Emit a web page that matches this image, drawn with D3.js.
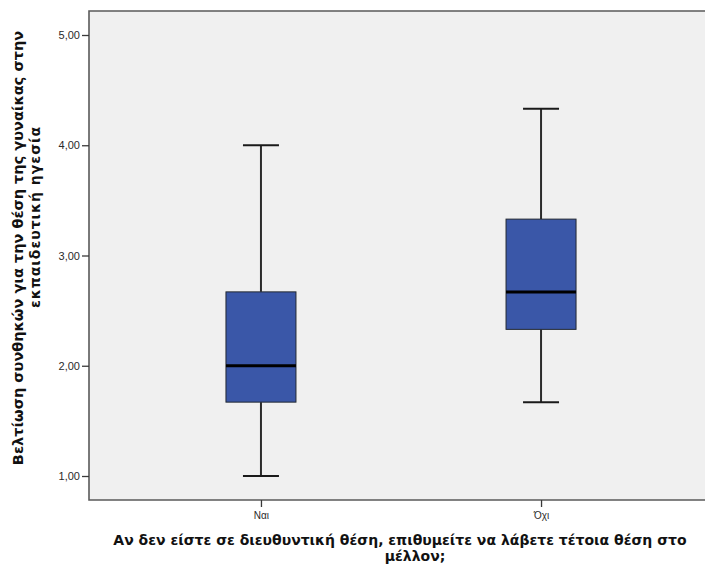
<!DOCTYPE html>
<html>
<head>
<meta charset="utf-8">
<script src="https://cdn.jsdelivr.net/npm/d3@7/dist/d3.min.js"></script>
<style>
  html, body { margin: 0; padding: 0; background: #ffffff; }
  svg { display: block; }
</style>
</head>
<body>
<svg id="chart" width="705" height="570"></svg>
<script>
// Box plot summary per group
const categories = ["Ναι", "Όχι"];
const lowWhisker = [1.00, 1.67];
const q1Values   = [1.67, 2.33];
const medians    = [2.00, 2.67];
const q3Values   = [2.67, 3.33];
const highWhisker = [4.00, 4.33];
const yTicks = [1, 2, 3, 4, 5];

const yTitleLines = ["Βελτίωση συνθηκών για την θέση της γυναίκας στην", "εκπαιδευτική ηγεσία"];
const xTitleLines = ["Αν δεν είστε σε διευθυντική θέση, επιθυμείτε να λάβετε τέτοια θέση στο", "μέλλον;"];

const svg = d3.select("#chart");

const frame = { left: 89, top: 11, right: 713, bottom: 500 };

const x = d3.scalePoint()
  .domain(categories)
  .range([frame.left, frame.right])
  .padding(0.614);

const y = d3.scaleLinear()
  .domain([1, 5])
  .range([476, 35]);

const fmt = d3.formatLocale({ decimal: ",", thousands: "." }).format(".2f");

// Plot background
svg.append("rect")
  .attr("x", frame.left)
  .attr("y", frame.top)
  .attr("width", frame.right - frame.left)
  .attr("height", frame.bottom - frame.top)
  .attr("fill", "#f0f0f0");

// Box elements
const data = categories.map((c, i) => ({
  cat: c, lo: lowWhisker[i], q1: q1Values[i], med: medians[i], q3: q3Values[i], hi: highWhisker[i]
}));

const boxW = 70, capW = 36;
const g = svg.append("g");
const box = g.selectAll("g.box").data(data).enter().append("g").attr("class", "box");

// whisker stems
box.append("line")
  .attr("x1", d => x(d.cat)).attr("x2", d => x(d.cat))
  .attr("y1", d => y(d.hi)).attr("y2", d => y(d.q3))
  .attr("stroke", "#2b2b2b").attr("stroke-width", 2);
box.append("line")
  .attr("x1", d => x(d.cat)).attr("x2", d => x(d.cat))
  .attr("y1", d => y(d.q1)).attr("y2", d => y(d.lo))
  .attr("stroke", "#2b2b2b").attr("stroke-width", 2);
// caps
box.append("line")
  .attr("x1", d => x(d.cat) - capW / 2).attr("x2", d => x(d.cat) + capW / 2)
  .attr("y1", d => y(d.hi)).attr("y2", d => y(d.hi))
  .attr("stroke", "#1a1a1a").attr("stroke-width", 2);
box.append("line")
  .attr("x1", d => x(d.cat) - capW / 2).attr("x2", d => x(d.cat) + capW / 2)
  .attr("y1", d => y(d.lo)).attr("y2", d => y(d.lo))
  .attr("stroke", "#1a1a1a").attr("stroke-width", 2);
// boxes
box.append("rect")
  .attr("x", d => x(d.cat) - boxW / 2)
  .attr("y", d => y(d.q3))
  .attr("width", boxW)
  .attr("height", d => y(d.q1) - y(d.q3))
  .attr("fill", "#3a57a8")
  .attr("stroke", "#222831")
  .attr("stroke-width", 1);
// medians
box.append("line")
  .attr("x1", d => x(d.cat) - boxW / 2).attr("x2", d => x(d.cat) + boxW / 2)
  .attr("y1", d => y(d.med)).attr("y2", d => y(d.med))
  .attr("stroke", "#000000").attr("stroke-width", 3);

// Frame: left, top and bottom edges
svg.append("path")
  .attr("d", `M${frame.right},${frame.top}H${frame.left}V${frame.bottom}H${frame.right}`)
  .attr("fill", "none")
  .attr("stroke", "#5a5a5a")
  .attr("stroke-width", 1.6);

// Y axis
const yAxis = svg.append("g")
  .attr("transform", `translate(${frame.left},0)`)
  .call(d3.axisLeft(y).tickValues(yTicks).tickFormat(fmt).tickSize(7).tickPadding(2));
yAxis.select(".domain").remove();
yAxis.selectAll(".tick line").attr("stroke", "#3a3a3a").attr("stroke-width", 1.3);
yAxis.selectAll(".tick text")
  .attr("fill", "#2a2a2a")
  .style("font-family", "'Liberation Sans', Arial, sans-serif")
  .style("font-size", "11px");

// X axis
const xAxis = svg.append("g")
  .attr("transform", `translate(0,${frame.bottom})`)
  .call(d3.axisBottom(x).tickSize(7).tickPadding(5));
xAxis.select(".domain").remove();
xAxis.selectAll(".tick line").attr("stroke", "#3a3a3a").attr("stroke-width", 1.3);
xAxis.selectAll(".tick text")
  .attr("fill", "#2a2a2a")
  .style("font-family", "'Liberation Sans Narrow', 'Liberation Sans', Arial, sans-serif")
  .style("font-size", "10px");

// Y title (two lines)
svg.append("text")
  .attr("transform", "translate(23,248) rotate(-90)")
  .attr("text-anchor", "middle")
  .style("font-family", "'DejaVu Sans', Verdana, sans-serif")
  .style("font-weight", "bold")
  .style("font-size", "14.5px")
  .attr("fill", "#111")
  .text(yTitleLines[0]);
svg.append("text")
  .attr("transform", "translate(40,217) rotate(-90)")
  .attr("text-anchor", "middle")
  .style("font-family", "'DejaVu Sans', Verdana, sans-serif")
  .style("font-weight", "bold")
  .style("font-size", "14px")
  .style("letter-spacing", "1px")
  .attr("fill", "#111")
  .text(yTitleLines[1]);

// X title (two lines)
svg.append("text")
  .attr("x", 400).attr("y", 545)
  .attr("text-anchor", "middle")
  .style("font-family", "'DejaVu Sans', Verdana, sans-serif")
  .style("font-weight", "bold")
  .style("font-size", "14px")
  .attr("fill", "#111")
  .text(xTitleLines[0]);
svg.append("text")
  .attr("x", 415).attr("y", 561)
  .attr("text-anchor", "middle")
  .style("font-family", "'DejaVu Sans', Verdana, sans-serif")
  .style("font-weight", "bold")
  .style("font-size", "14px")
  .attr("fill", "#111")
  .text(xTitleLines[1]);
</script>
</body>
</html>
